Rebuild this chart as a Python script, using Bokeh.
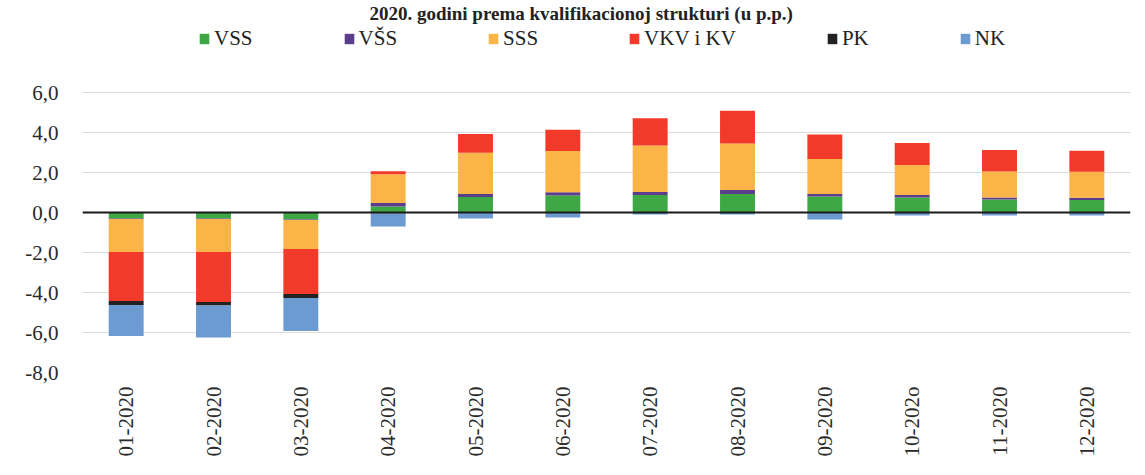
import math
import numpy as np
from bokeh.plotting import figure
from bokeh.models import ColumnDataSource, Legend, LegendItem, Span, Label, FixedTicker
from bokeh.embed import file_html
from bokeh.resources import INLINE

# ---- data (p.p.) ----
months = ["01-2020", "02-2020", "03-2020", "04-2020", "05-2020", "06-2020",
          "07-2020", "08-2020", "09-2020", "10-202o", "11-2020", "12-2020"]
series_names = ["VSS", "VŠS", "SSS", "VKV i KV", "PK", "NK"]
vss = [-0.30, -0.30, -0.35, 0.30, 0.77, 0.85, 0.87, 0.92, 0.80, 0.75, 0.65, 0.62]
vss2 = [-0.03, -0.03, -0.03, 0.17, 0.15, 0.16, 0.16, 0.21, 0.12, 0.12, 0.10, 0.12]
sss = [-1.65, -1.65, -1.45, 1.44, 2.07, 2.06, 2.32, 2.32, 1.75, 1.50, 1.30, 1.30]
vkv = [-2.45, -2.50, -2.25, 0.15, 0.94, 1.07, 1.36, 1.64, 1.23, 1.10, 1.07, 1.05]
pk = [-0.20, -0.17, -0.20, -0.05, 0.0, 0.0, 0.0, 0.0, 0.0, 0.0, 0.0, 0.0]
nk = [-1.55, -1.60, -1.65, -0.65, -0.30, -0.25, -0.10, -0.10, -0.35, -0.15, -0.15, -0.15]
colors = ["#3ea845", "#5a3e8c", "#fbb448", "#f23a2b", "#222222", "#6b9bd0"]

y_ticks = [-8, -6, -4, -2, 0, 2, 4, 6]
y_tick_labels = ["-8,0", "-6,0", "-4,0", "-2,0", "0,0", "2,0", "4,0", "6,0"]
title_text = "2020. godini prema kvalifikacionoj strukturi (u p.p.)"

FONT = "Liberation Serif"

# frame extends to the top of the canvas so that legend/title sit inside it
p = figure(x_range=months, y_range=(-8, 10.6), width=1137, height=467,
           output_backend="svg", toolbar_location=None,
           min_border_left=82, min_border_right=7, min_border_top=0, min_border_bottom=95)
p.outline_line_color = None
p.background_fill_color = "white"
p.border_fill_color = "white"

# stacked bars, positives up and negatives down
pos = np.zeros(len(months))
neg = np.zeros(len(months))
renderers = []
for name, vals, col in zip(series_names, [vss, vss2, sss, vkv, pk, nk], colors):
    v = np.array(vals, dtype=float)
    base = np.where(v >= 0, pos, neg)
    top = base + v
    pos = np.where(v >= 0, top, pos)
    neg = np.where(v < 0, top, neg)
    src = ColumnDataSource(dict(x=months, bottom=base, top=top))
    r = p.vbar(x="x", bottom="bottom", top="top", width=0.4, source=src,
               fill_color=col, line_color=None)
    renderers.append((name, r))

# zero line
p.add_layout(Span(location=0, dimension="width", line_color="#1a1a1a", line_width=2))

# axes
p.yaxis.ticker = FixedTicker(ticks=y_ticks)
p.yaxis.major_label_overrides = {t: l for t, l in zip(y_ticks, y_tick_labels)}
p.yaxis.axis_line_color = None
p.yaxis.major_tick_line_color = None
p.yaxis.minor_tick_line_color = None
p.yaxis.major_label_standoff = 18
p.yaxis.major_label_text_font = FONT
p.yaxis.major_label_text_font_size = "21px"
p.yaxis.major_label_text_color = "#2a2a2a"

p.xaxis.axis_line_color = None
p.xaxis.major_tick_line_color = None
p.xaxis.minor_tick_line_color = None
p.xaxis.major_label_orientation = math.pi / 2
p.xaxis.major_label_standoff = 8
p.xaxis.major_label_text_font = FONT
p.xaxis.major_label_text_font_size = "21px"
p.xaxis.major_label_text_color = "#2a2a2a"

p.xgrid.grid_line_color = None
p.ygrid.ticker = FixedTicker(ticks=y_ticks)
p.ygrid.grid_line_color = "#dcdcdc"
p.ygrid.grid_line_width = 1

# legend
legend = Legend(items=[LegendItem(label=n, renderers=[r]) for n, r in renderers],
                orientation="horizontal", location=(116, 321),
                glyph_width=12, glyph_height=13, label_standoff=4, spacing=90,
                padding=0, margin=0, border_line_color=None, background_fill_alpha=0,
                label_text_font=FONT, label_text_font_size="21px",
                label_text_color="#222222")
p.add_layout(legend, "center")

# title (top of the chart)
p.add_layout(Label(x=5.71, y=9.95, text=title_text, text_align="center",
                   text_baseline="alphabetic", text_font=FONT, text_font_size="19px",
                   text_font_style="bold", text_color="#222222"))

open("out.html", "w").write(file_html(p, INLINE))
